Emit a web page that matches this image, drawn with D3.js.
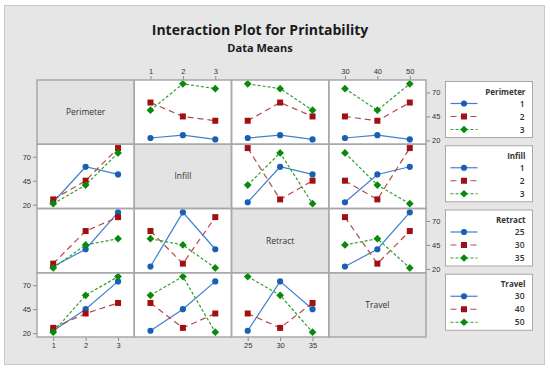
<!DOCTYPE html>
<html>
<head>
<meta charset="utf-8">
<script src="https://cdn.jsdelivr.net/npm/d3@7"></script>
<style>
  body { margin: 0; background: #fff; }
  svg { display: block; font-family: "Open Sans", "Noto Sans", sans-serif; }
</style>
</head>
<body>
<svg id="chart" width="550" height="371"></svg>
<script>
// factors and their levels
const factors = ["Perimeter", "Infill", "Retract", "Travel"];
const perimeterLevels = [1, 2, 3];
const infillLevels = [1, 2, 3];
const retractLevels = [25, 30, 35];
const travelLevels = [30, 40, 50];

// L9 runs (one row per run) and the response
const perimeterRun = [1, 1, 1, 2, 2, 2, 3, 3, 3];
const infillRun    = [1, 2, 3, 1, 2, 3, 1, 2, 3];
const retractRun   = [25, 30, 35, 30, 35, 25, 35, 25, 30];
const travelRun    = [30, 40, 50, 50, 30, 40, 40, 50, 30];
const printability = [22.5, 25.5, 21, 59.5, 45, 40.5, 51.5, 79, 74];

const yTicks = [20, 45, 70];

const levelsOf = [perimeterLevels, infillLevels, retractLevels, travelLevels];
const runsOf = [perimeterRun, infillRun, retractRun, travelRun];

const width = 550, height = 371;
const svg = d3.select("#chart");

// outer grey frame
svg.append("rect")
  .attr("x", 4.5).attr("y", 5.5)
  .attr("width", 540).attr("height", 359)
  .attr("fill", "#e6e6e6")
  .attr("stroke", "#c8c8c8");

svg.append("text")
  .attr("x", 260).attr("y", 35)
  .attr("text-anchor", "middle")
  .attr("font-size", "14px").attr("font-weight", "bold")
  .attr("fill", "#1a1a1a")
  .text("Interaction Plot for Printability");

svg.append("text")
  .attr("x", 260).attr("y", 52)
  .attr("text-anchor", "middle")
  .attr("font-size", "11px").attr("font-weight", "bold")
  .attr("fill", "#1a1a1a")
  .text("Data Means");

// grid of panels
const gx = d3.scaleBand().domain(d3.range(4)).range([37, 426]);
const gy = d3.scaleBand().domain(d3.range(4)).range([80, 337]);
const bw = gx.bandwidth(), bh = gy.bandwidth();

const y = d3.scaleLinear().domain([16, 83]).range([bh, 0]);

const series = [
  { color: "#1b5fb5", line: "#3f80d0", dash: null, shape: d3.symbolCircle, size: 30, rot: 0 },
  { color: "#a01010", line: "#b84848", dash: "6,4", shape: d3.symbolSquare, size: 36, rot: 0 },
  { color: "#0a8a0a", line: "#2f9f2f", dash: "3,2", shape: d3.symbolSquare, size: 30, rot: 45 }
];

const lineGen = d3.line().x(d => d.x).y(d => d.y);

for (let i = 0; i < 4; i++) {
  for (let j = 0; j < 4; j++) {
    const g = svg.append("g")
      .attr("transform", `translate(${gx(j)},${gy(i)})`);

    g.append("rect")
      .attr("width", bw).attr("height", bh)
      .attr("fill", i === j ? "#e3e3e3" : "#fff");

    if (i === j) {
      g.append("text")
        .attr("x", bw / 2).attr("y", bh / 2 + 3)
        .attr("text-anchor", "middle")
        .attr("font-size", "8.5px")
        .attr("fill", "#333")
        .text(factors[i]);
      continue;
    }

    const x = d3.scalePoint().domain(levelsOf[j]).range([0, bw]).padding(0.5);

    // lines grouped by level of row factor, x = column factor
    levelsOf[i].forEach((lev, k) => {
      const pts = levelsOf[j].map(xl => {
        const vals = printability.filter((v, r) => runsOf[i][r] === lev && runsOf[j][r] === xl);
        return { x: x(xl), y: y(d3.mean(vals)) };
      });
      const s = series[k];
      g.append("path")
        .attr("d", lineGen(pts))
        .attr("fill", "none")
        .attr("stroke", s.line)
        .attr("stroke-width", 1.2)
        .attr("stroke-dasharray", s.dash);
      g.selectAll(null)
        .data(pts)
        .enter()
        .append("path")
        .attr("transform", d => `translate(${d.x},${d.y}) rotate(${s.rot})`)
        .attr("d", d3.symbol().type(s.shape).size(s.size))
        .attr("fill", s.color);
    });

    // axes, alternating like Minitab
    if (i === 0 && (j === 1 || j === 3)) {
      g.append("g").attr("class", "axis").call(d3.axisTop(x).tickSize(4).tickPadding(2));
    }
    if (i === 3 && (j === 0 || j === 2)) {
      g.append("g").attr("class", "axis")
        .attr("transform", `translate(0,${bh})`)
        .call(d3.axisBottom(x).tickSize(4).tickPadding(2));
    }
    if (j === 0 && (i === 1 || i === 3)) {
      g.append("g").attr("class", "axis")
        .call(d3.axisLeft(y).tickValues(yTicks).tickSize(4).tickPadding(2));
    }
    if (j === 3 && (i === 0 || i === 2)) {
      g.append("g").attr("class", "axis")
        .attr("transform", `translate(${bw},0)`)
        .call(d3.axisRight(y).tickValues(yTicks).tickSize(4).tickPadding(2));
    }
  }
}

svg.selectAll(".axis .domain").remove();
svg.selectAll(".axis line").attr("stroke", "#888");
svg.selectAll(".axis text").attr("font-size", "7.5px").attr("fill", "#333").attr("font-family", null);

// panel borders drawn on top
for (let i = 0; i < 4; i++) {
  for (let j = 0; j < 4; j++) {
    svg.append("rect")
      .attr("x", gx(j)).attr("y", gy(i))
      .attr("width", bw).attr("height", bh)
      .attr("fill", "none")
      .attr("stroke", "#a8a8a8")
      .attr("stroke-width", 1.5);
  }
}

// legends, one per row
factors.forEach((f, i) => {
  const lg = svg.append("g")
    .attr("transform", `translate(445.5,${gy(i) + 1.5})`);
  lg.append("rect")
    .attr("width", 87).attr("height", 56)
    .attr("fill", "#fff")
    .attr("stroke", "#a8a8a8");
  lg.append("text")
    .attr("x", 80).attr("y", 13)
    .attr("text-anchor", "end")
    .attr("font-size", "8px").attr("font-weight", "bold")
    .attr("fill", "#333")
    .text(f);
  levelsOf[i].forEach((lev, k) => {
    const s = series[k];
    const ly = 22 + k * 13;
    lg.append("line")
      .attr("x1", 5).attr("x2", 32)
      .attr("y1", ly).attr("y2", ly)
      .attr("stroke", s.line)
      .attr("stroke-width", 1.2)
      .attr("stroke-dasharray", s.dash);
    lg.append("path")
      .attr("transform", `translate(18.5,${ly}) rotate(${s.rot})`)
      .attr("d", d3.symbol().type(s.shape).size(s.size))
      .attr("fill", s.color);
    lg.append("text")
      .attr("x", 79).attr("y", ly + 3)
      .attr("text-anchor", "end")
      .attr("font-size", "8.5px").attr("font-weight", "600")
      .attr("fill", "#333")
      .text(lev);
  });
});
</script>
</body>
</html>
